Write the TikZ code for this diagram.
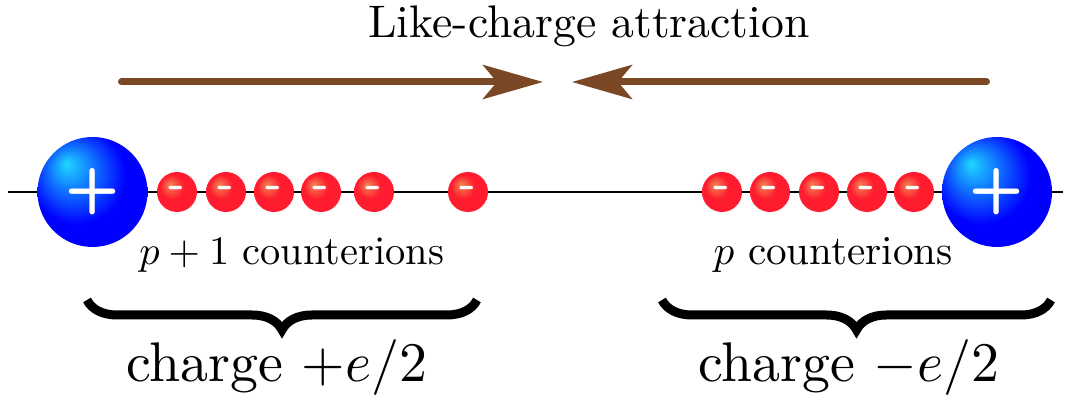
\documentclass[tikz,border=0pt]{standalone}
\usepackage{tikz}
\usetikzlibrary{positioning,arrows.meta,decorations.pathreplacing}
% Latin Modern 10pt design, scaled to any size
\DeclareFontFamily{TU}{lmrten}{}
\DeclareFontShape{TU}{lmrten}{m}{n}{<-> "[lmroman10-regular]:mapping=tex-text;"}{}
\DeclareFontFamily{OT1}{cmr}{\hyphenchar\font45 }
\DeclareFontShape{OT1}{cmr}{m}{n}{<-> cmr10}{}
\DeclareFontFamily{OML}{cmm}{\skewchar\font127 }
\DeclareFontShape{OML}{cmm}{m}{it}{<-> cmmi10}{}
\DeclareFontFamily{OMS}{cmsy}{\skewchar\font48 }
\DeclareFontShape{OMS}{cmsy}{m}{n}{<-> cmsy10}{}
\newcommand{\lblfont}[1]{\fontfamily{lmrten}\fontsize{#1}{#1}\selectfont}
\definecolor{arrbrown}{RGB}{122,72,36}
\definecolor{ionred}{RGB}{255,28,46}
\definecolor{ionhi}{RGB}{242,135,85}
\definecolor{cationblue}{RGB}{0,0,255}
\definecolor{cationhi}{RGB}{30,215,255}
\pgfdeclareradialshading{redion}{\pgfpoint{-9bp}{9bp}}{color(0bp)=(ionhi); color(15bp)=(ionred); color(50bp)=(ionred)}
\pgfdeclareradialshading{blueion}{\pgfpoint{-12bp}{13bp}}{color(0bp)=(cationhi); color(22bp)=(cationblue); color(50bp)=(cationblue)}
\tikzset{
  cation/.style={circle,shading=blueion,minimum size=1.1cm,inner sep=0pt,
                 text=white,font=\sffamily\bfseries\fontsize{18}{18}\selectfont},
  anion/.style={circle,shading=redion,minimum size=0.4cm,inner sep=0pt,
                text=white,font=\sffamily\bfseries\fontsize{13}{13}\selectfont},
  arr/.style={-{Stealth[length=0.6cm,width=0.34cm,inset=0.14cm]},
              line width=0.07cm,arrbrown,line cap=round},
  brc/.style={decorate,decoration={brace,mirror,amplitude=0.3cm},line width=0.09cm},
  lbl/.style={anchor=base,inner sep=0pt},
}

\begin{document}
\begin{tikzpicture}
  \useasboundingbox (0,0) rectangle (10.71,4.05);
  % chain axis
  \coordinate (axL) at (0.08,2.13);
  \coordinate (axR) at (10.63,2.13);
  \draw[semithick] (axL) -- (axR);
  % macroions and counterions
  \node[cation] (cL) at (0.925,2.13) {+};
  \node[cation] (cR) at (9.97,2.13) {+};
  \foreach \x [count=\i] in {1.77,2.26,2.74,3.21,3.74,4.68}
    \node[anion] (m\i) at (\x,2.13) {-};
  \foreach \x [count=\i] in {7.22,7.70,8.19,8.67,9.14}
    \node[anion] (n\i) at (\x,2.13) {-};
  % attraction arrows
  \coordinate (aL) at (1.215,3.23);
  \coordinate (aR) at (9.865,3.23);
  \coordinate (tipL) at (5.43,3.23);
  \coordinate (tipR) at (5.72,3.23);
  \draw[arr] (aL) -- (tipL);
  \draw[arr] (aR) -- (tipR);
  \node[lbl,font=\lblfont{13}] (title) at (5.89,3.67) {Like-charge attraction};
  % counterion labels
  \node[lbl,font=\lblfont{11.5}] (cntL) at (2.917,1.40) {$p+1$ counterions};
  \node[lbl,font=\lblfont{11.7}] (cntR) at (8.333,1.40) {$p$ counterions};
  % braces
  \coordinate (bL1) at (0.87,1.05);
  \coordinate (bL2) at (4.77,1.05);
  \coordinate (bR1) at (6.62,1.05);
  \coordinate (bR2) at (10.51,1.05);
  \draw[brc] (bL1) -- (bL2);
  \draw[brc] (bR1) -- (bR2);
  \node[lbl,font=\lblfont{15.9}] (qL) at (2.765,0.23) {charge $+e/2$};
  \node[lbl,font=\lblfont{15.9}] (qR) at (8.485,0.23) {charge $-e/2$};
\end{tikzpicture}
\end{document}
